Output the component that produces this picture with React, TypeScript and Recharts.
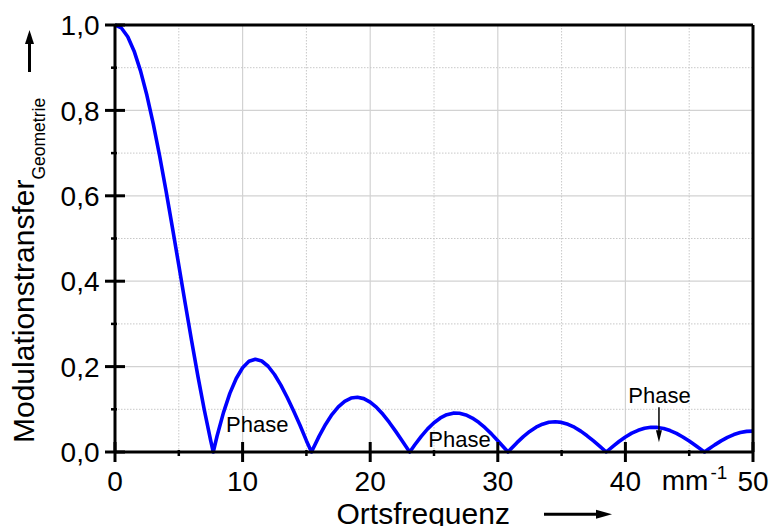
import React from "react";
import {
  LineChart,
  Line,
  XAxis,
  YAxis,
  CartesianGrid,
  ReferenceLine,
  ReferenceDot,
} from "recharts";

// Spatial frequency in mm^-1
const freq: number[] = [
  0, 0.5, 1, 1.5, 2, 2.5, 3, 3.5, 4, 4.5, 5, 5.5, 6, 6.5, 7, 7.5, 7.7, 8, 8.5, 9,
  9.5, 10, 10.5, 11, 11.5, 12, 12.5, 13, 13.5, 14, 14.5, 15, 15.4, 15.5, 16, 16.5,
  17, 17.5, 18, 18.5, 19, 19.5, 20, 20.5, 21, 21.5, 22, 22.5, 23, 23.1, 23.5, 24,
  24.5, 25, 25.5, 26, 26.5, 27, 27.5, 28, 28.5, 29, 29.5, 30, 30.5, 30.8, 31, 31.5,
  32, 32.5, 33, 33.5, 34, 34.5, 35, 35.5, 36, 36.5, 37, 37.5, 38, 38.5, 39, 39.5,
  40, 40.5, 41, 41.5, 42, 42.5, 43, 43.5, 44, 44.5, 45, 45.5, 46, 46.2, 46.5, 47,
  47.5, 48, 48.5, 49, 49.5, 50,
];

// Geometric modulation transfer
const mtf: number[] = [
  1.0, 0.993, 0.9725, 0.9387, 0.8926, 0.8354, 0.7684, 0.6932, 0.6116, 0.5255,
  0.4373, 0.3484, 0.2612, 0.1772, 0.0983, 0.0266, 0.0, 0.0374, 0.0922, 0.1373,
  0.1722, 0.1974, 0.2124, 0.2172, 0.2131, 0.2008, 0.1815, 0.1567, 0.1277, 0.0959,
  0.0627, 0.0266, 0.0, 0.0065, 0.0371, 0.0645, 0.0876, 0.1058, 0.1188, 0.1263,
  0.1283, 0.125, 0.1168, 0.1043, 0.0882, 0.0692, 0.0483, 0.0264, 0.0043, 0.0,
  0.0169, 0.0367, 0.0541, 0.0686, 0.0797, 0.0873, 0.091, 0.0908, 0.0869, 0.0796,
  0.0695, 0.0569, 0.0425, 0.0262, 0.0098, 0.0, 0.0064, 0.0219, 0.036, 0.0482,
  0.0581, 0.0652, 0.0696, 0.0709, 0.0693, 0.0649, 0.058, 0.0489, 0.038, 0.0259,
  0.0131, 0.0, 0.0127, 0.0246, 0.0352, 0.0441, 0.0509, 0.0555, 0.0578, 0.0576,
  0.055, 0.0502, 0.0436, 0.0352, 0.0256, 0.0152, 0.0043, 0.0, 0.0064, 0.0167,
  0.0261, 0.0342, 0.0408, 0.0455, 0.0483, 0.049,
];

const xTicks: number[] = [0, 5, 10, 15, 20, 25, 30, 35, 40, 45, 50];
const xMajor: number[] = [0, 10, 20, 30, 40, 50];
const yTicks: number[] = [0, 0.1, 0.2, 0.3, 0.4, 0.5, 0.6, 0.7, 0.8, 0.9, 1.0];
const yMajor: number[] = [0, 0.2, 0.4, 0.6, 0.8, 1.0];
const xGridMajor: number[] = [10, 20, 30, 40];
const xGridMinor: number[] = [5, 15, 25, 35, 45];
const yGridMajor: number[] = [0.2, 0.4, 0.6, 0.8];
const yGridMinor: number[] = [0.1, 0.3, 0.5, 0.7, 0.9];

const data = freq.map((f, i) => ({ f, mtf: mtf[i] }));

const FONT = "'Liberation Sans', Arial, Helvetica, sans-serif";
const W = 771;
const H = 526;

const fmt = (v: number) => v.toFixed(1).replace(".", ",");

const XTick = (props: any) => {
  const { x, y, payload } = props;
  const v = payload.value as number;
  const major = xMajor.includes(v);
  return (
    <g>
      {major ? (
        <line x1={x} x2={x} y1={y - 10} y2={y + 10} stroke="#000" strokeWidth={3} />
      ) : (
        <line x1={x} x2={x} y1={y - 2} y2={y + 4} stroke="#000" strokeWidth={2.5} />
      )}
      {major && (
        <text x={x} y={y + 39} textAnchor="middle" fontSize={28} fontFamily={FONT} fill="#000">
          {String(v)}
        </text>
      )}
    </g>
  );
};

const YTick = (props: any) => {
  const { x, y, payload } = props;
  const v = payload.value as number;
  const major = yMajor.some((m) => Math.abs(m - v) < 1e-9);
  return (
    <g>
      {major ? (
        <line x1={x - 10} x2={x + 10} y1={y} y2={y} stroke="#000" strokeWidth={3} />
      ) : (
        <line x1={x - 4} x2={x + 2} y1={y} y2={y} stroke="#000" strokeWidth={2.5} />
      )}
      {major && (
        <text x={x - 15.5} y={y + 10.2} textAnchor="end" fontSize={28} fontFamily={FONT} fill="#000">
          {fmt(v)}
        </text>
      )}
    </g>
  );
};

const PhaseText = (props: any) => {
  const { cx, cy } = props;
  return (
    <text x={cx} y={cy} fontSize={22} fontFamily={FONT} fill="#000">
      Phase
    </text>
  );
};

const PhaseArrow = (props: any) => {
  const { cx, cy } = props;
  return (
    <g>
      <line x1={cx} x2={cx} y1={cy} y2={cy + 24} stroke="#000" strokeWidth={1.5} />
      <path d={`M${cx - 3},${cy + 23} L${cx + 3},${cy + 23} L${cx},${cy + 35} Z`} fill="#000" />
    </g>
  );
};

const UnitText = (props: any) => {
  const { cx, cy } = props;
  return (
    <text x={cx} y={cy} fontSize={28} fontFamily={FONT} fill="#000">
      mm
      <tspan dy={-11} dx={2} fontSize={19}>
        -1
      </tspan>
    </text>
  );
};

export default function App() {
  return (
    <div style={{ position: "fixed", left: 0, top: 0, width: W, height: H, background: "#fff" }}>
      <LineChart
        width={W}
        height={H}
        data={data}
        margin={{ top: 25, right: 18, bottom: 0, left: 0 }}
      >
        <CartesianGrid
          stroke="#d2d2d2"
          strokeWidth={1.2}
          verticalValues={xGridMajor}
          horizontalValues={yGridMajor}
        />
        <CartesianGrid
          stroke="#c8c8c8"
          strokeWidth={1}
          strokeDasharray="1.5 1.5"
          verticalValues={xGridMinor}
          horizontalValues={yGridMinor}
        />
        <XAxis
          dataKey="f"
          type="number"
          domain={[0, 50]}
          ticks={xTicks}
          interval={0}
          height={74}
          tickSize={0}
          tickMargin={0}
          axisLine={{ stroke: "#000", strokeWidth: 3 }}
          tickLine={false}
          tick={<XTick />}
        />
        <YAxis
          type="number"
          domain={[0, 1]}
          ticks={yTicks}
          interval={0}
          width={115}
          tickSize={0}
          tickMargin={0}
          axisLine={{ stroke: "#000", strokeWidth: 3 }}
          tickLine={false}
          tick={<YTick />}
        />
        <Line
          type="linear"
          dataKey="mtf"
          stroke="#0000ff"
          strokeWidth={3.6}
          strokeLinejoin="round"
          dot={false}
          isAnimationActive={false}
        />
        <ReferenceLine y={1} stroke="#000" strokeWidth={3} ifOverflow="visible" />
        <ReferenceLine x={50} stroke="#000" strokeWidth={3} ifOverflow="visible" />
        <ReferenceDot x={8.7} y={0.048} r={0} ifOverflow="visible" shape={<PhaseText />} />
        <ReferenceDot x={24.55} y={0.012} r={0} ifOverflow="visible" shape={<PhaseText />} />
        <ReferenceDot x={40.23} y={0.114} r={0} ifOverflow="visible" shape={<PhaseText />} />
        <ReferenceDot x={42.63} y={0.105} r={0} ifOverflow="visible" shape={<PhaseArrow />} />
        <ReferenceDot x={42.85} y={-0.089} r={0} ifOverflow="visible" shape={<UnitText />} />
      </LineChart>
      <svg
        width={W}
        height={H}
        style={{ position: "absolute", left: 0, top: 0, pointerEvents: "none" }}
      >
        {/* y-axis title with upward arrow */}
        <text
          transform="translate(34,443) rotate(-90)"
          fontSize={30}
          fontFamily={FONT}
          fill="#000"
        >
          Modulationstransfer
          <tspan dy={11} fontSize={17.5}>
            Geometrie
          </tspan>
        </text>
        <line x1={29.5} x2={29.5} y1={72} y2={42} stroke="#000" strokeWidth={3} />
        <path d="M25,44 L34,44 L29.5,30 Z" fill="#000" />
        {/* x-axis title with rightward arrow */}
        <text x={336.5} y={524} fontSize={30} fontFamily={FONT} fill="#000">
          Ortsfrequenz
        </text>
        <line x1={544} x2={598} y1={514.3} y2={514.3} stroke="#000" strokeWidth={3} />
        <path d="M596,509.8 L596,518.8 L612,514.3 Z" fill="#000" />
      </svg>
    </div>
  );
}
